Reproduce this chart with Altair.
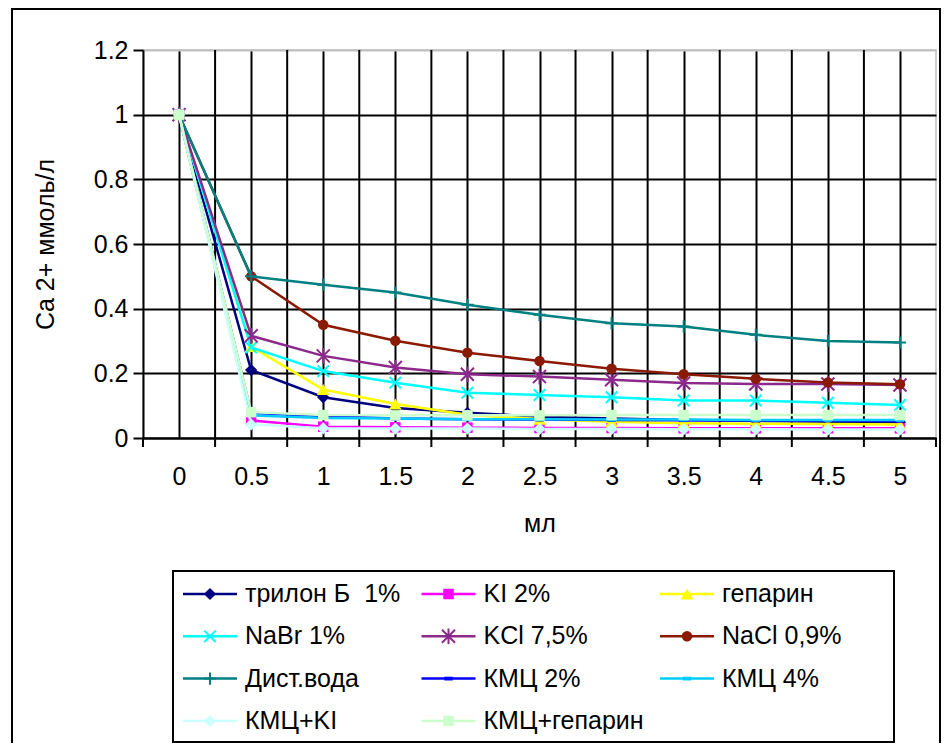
import altair as alt
import pandas as pd

# ---------------- data ----------------
x_vals = [0, 0.5, 1, 1.5, 2, 2.5, 3, 3.5, 4, 4.5, 5]
y_ticks = [0, 0.2, 0.4, 0.6, 0.8, 1, 1.2]

series_names = ["трилон Б\u00a0 1%", "KI 2%", "гепарин", "NaBr 1%", "KCl 7,5%",
                "NaCl 0,9%", "Дист.вода", "КМЦ 2%", "КМЦ 4%", "КМЦ+KI", "КМЦ+гепарин"]

trilon = [1, 0.21, 0.126, 0.093, 0.078, 0.066, 0.06, 0.056, 0.053, 0.05, 0.049]
ki = [1, 0.054, 0.035, 0.033, 0.032, 0.031, 0.031, 0.03, 0.03, 0.03, 0.03]
heparin = [1, 0.283, 0.15, 0.105, 0.072, 0.058, 0.05, 0.046, 0.044, 0.043, 0.042]
nabr = [1, 0.28, 0.207, 0.171, 0.14, 0.133, 0.126, 0.116, 0.116, 0.109, 0.102]
kcl = [1, 0.316, 0.254, 0.218, 0.197, 0.19, 0.18, 0.17, 0.167, 0.167, 0.164]
nacl = [1, 0.5, 0.35, 0.301, 0.264, 0.238, 0.214, 0.197, 0.183, 0.172, 0.166]
water = [1, 0.5, 0.474, 0.45, 0.412, 0.381, 0.355, 0.345, 0.319, 0.3, 0.295]
kmc2 = [1, 0.078, 0.068, 0.06, 0.058, 0.057, 0.056, 0.055, 0.054, 0.054, 0.053]
kmc4 = [1, 0.07, 0.062, 0.06, 0.058, 0.058, 0.057, 0.057, 0.056, 0.056, 0.056]
kmc_ki = [1, 0.042, 0.03, 0.029, 0.029, 0.028, 0.028, 0.027, 0.027, 0.026, 0.026]
kmc_hep = [1, 0.08, 0.071, 0.07, 0.07, 0.07, 0.071, 0.071, 0.071, 0.071, 0.071]

series_values = [trilon, ki, heparin, nabr, kcl, nacl, water, kmc2, kmc4, kmc_ki, kmc_hep]

# ---------------- styles ----------------
colors = ["#000080", "#FF00FF", "#FFFF00", "#00FFFF", "#8B2A8B", "#8B1A05",
          "#008080", "#0000FF", "#00CCFF", "#CCFFFF", "#CCFFCC"]
X_PATH = "M-1,-1L1,1M1,-1L-1,1"
STAR_PATH = "M-1,-1L1,1M1,-1L-1,1M0,-1.2L0,1.2"
PLUS_PATH = "M-1,0L1,0M0,-1L0,1"
DASH_PATH = "M-1,-0.45L1,-0.45L1,0.45L-1,0.45Z"
markers = [
    ("diamond", True, 150),
    ("square", True, 110),
    ("triangle-up", True, 160),
    (X_PATH, False, 130),
    (STAR_PATH, False, 170),
    ("circle", True, 110),
    (PLUS_PATH, False, 150),
    (DASH_PATH, True, 70),
    (DASH_PATH, True, 70),
    ("diamond", True, 150),
    ("square", True, 110),
]

FONT = "Liberation Sans"
W, H = 793, 388

step = x_vals[1] - x_vals[0]
bounds = [x_vals[0] - step / 2] + [(a + b) / 2 for a, b in zip(x_vals[:-1], x_vals[1:])] + [x_vals[-1] + step / 2]

xscale = alt.Scale(domain=[bounds[0], bounds[-1]], nice=False, zero=False)
yscale = alt.Scale(domain=[0, 1.2], nice=False)

xaxis = alt.Axis(values=x_vals, format="~g", title="мл", titleX=W / 2, titleY=85,
                 titleAlign="center", titleBaseline="middle", titleFont=FONT,
                 titleFontSize=25, titleFontWeight="normal", titleColor="black",
                 labelFont=FONT, labelFontSize=25, labelColor="black",
                 labelBaseline="middle", labelPadding=38, labelFlush=False,
                 labelOverlap=False, ticks=False, tickSize=0,
                 domainColor="black", domainWidth=2,
                 grid=True, gridColor="black", gridWidth=2, gridOpacity=1)
yaxis = alt.Axis(values=y_ticks, format="~g", title="Ca 2+ ммоль/л", titleX=-98,
                 titleY=H / 2, titleAngle=270, titleAlign="center",
                 titleBaseline="middle", titleFont=FONT, titleFontSize=25,
                 titleFontWeight="normal", titleColor="black",
                 labelFont=FONT, labelFontSize=25, labelColor="black",
                 labelPadding=5, labelOverlap=False, labelFlush=False,
                 tickSize=10, tickWidth=2, tickColor="black",
                 domainColor="black", domainWidth=2,
                 grid=True,
                 gridColor={"condition": {"test": "datum.value > 1.19", "value": "#c0c0c0"},
                            "value": "black"},
                 gridWidth=2, gridOpacity=1)

layers = []

# base layer carrying the axes (invisible points)
base_df = pd.DataFrame({"x": x_vals, "y": trilon})
layers.append(
    alt.Chart(base_df).mark_point(opacity=0).encode(
        x=alt.X("x:Q", scale=xscale, axis=xaxis),
        y=alt.Y("y:Q", scale=yscale, axis=yaxis),
    )
)

# vertical gridlines at category boundaries and ticks below axis
grid_df = pd.DataFrame({"x": bounds[1:-1]})
layers.append(
    alt.Chart(grid_df).mark_rule(color="black", strokeWidth=2).encode(
        x=alt.X("x:Q", scale=xscale, axis=xaxis), y=alt.value(0), y2=alt.value(H)
    )
)
tick_df = pd.DataFrame({"x": bounds})
layers.append(
    alt.Chart(tick_df).mark_rule(color="black", strokeWidth=2).encode(
        x=alt.X("x:Q", scale=xscale, axis=xaxis), y=alt.value(H), y2=alt.value(H + 9)
    )
)

# series
for name, vals, col, (shape, filled, size) in zip(series_names, series_values, colors, markers):
    df = pd.DataFrame({"x": x_vals, "y": vals, "name": name})
    enc = dict(x=alt.X("x:Q", scale=xscale, axis=xaxis), y=alt.Y("y:Q", scale=yscale, axis=yaxis))
    layers.append(alt.Chart(df).mark_line(color=col, strokeWidth=2.5).encode(**enc))
    layers.append(
        alt.Chart(df).mark_point(shape=shape, filled=filled, color=col, size=size,
                                 strokeWidth=2, opacity=1).encode(**enc)
    )

# legend box
layers.append(
    alt.Chart(pd.DataFrame({"a": [0]})).mark_rect(fillOpacity=0, stroke="black", strokeWidth=2).encode(
        x=alt.value(30), x2=alt.value(751), y=alt.value(521), y2=alt.value(692)
    )
)

# legend entries
rows = []
for i, name in enumerate(series_names):
    r, c = divmod(i, 3)
    tx = 102 + c * 238.5
    rows.append({"name": name, "tx": tx, "lx1": tx - 62, "lx2": tx - 8,
                 "mx": tx - 35, "ly": 544 + r * 42.3})
leg = pd.DataFrame(rows)

for i, (name, col, (shape, filled, size)) in enumerate(zip(series_names, colors, markers)):
    d = leg.iloc[[i]]
    layers.append(
        alt.Chart(d).mark_rule(color=col, strokeWidth=2.5).encode(
            x=alt.X("lx1:Q", scale=None, axis=None), x2="lx2:Q",
            y=alt.Y("ly:Q", scale=None, axis=None)
        )
    )
    layers.append(
        alt.Chart(d).mark_point(shape=shape, filled=filled, color=col, size=size,
                                strokeWidth=2, opacity=1).encode(
            x=alt.X("mx:Q", scale=None, axis=None),
            y=alt.Y("ly:Q", scale=None, axis=None)
        )
    )

layers.append(
    alt.Chart(leg).mark_text(align="left", baseline="middle", font=FONT, fontSize=25,
                             color="black").encode(
        x=alt.X("tx:Q", scale=None, axis=None),
        y=alt.Y("ly:Q", scale=None, axis=None),
        text="name:N",
    )
)

# outer chart border
layers.append(
    alt.Chart(pd.DataFrame({"a": [0]})).mark_rect(fillOpacity=0, stroke="black", strokeWidth=2).encode(
        x=alt.value(-131), x2=alt.value(797), y=alt.value(-41), y2=alt.value(720)
    )
)

chart = alt.layer(*layers).properties(
    width=W, height=H,
    autosize=alt.AutoSizeParams(type="none"),
    padding={"left": 135, "top": 42, "right": 5, "bottom": 305},
    background="white",
).configure_view(stroke="#c0c0c0", strokeWidth=1.5)

chart.save("out.html", embed_options={"renderer": "svg", "actions": False})
